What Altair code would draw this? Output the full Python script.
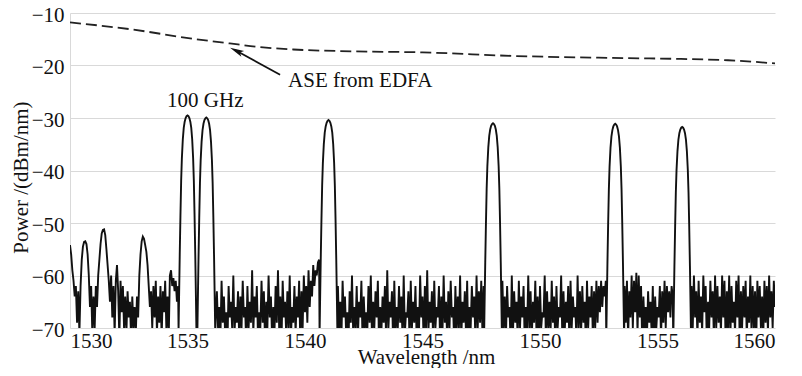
import altair as alt
import pandas as pd

# ---------------- data ----------------
x_ticks = [1530, 1535, 1540, 1545, 1550, 1555, 1560]
y_ticks = [-70, -60, -50, -40, -30, -20, -10]

# ASE from EDFA (dashed curve)
ase_wl = [1530, 1532.5, 1535.3, 1536.8, 1538, 1539.5, 1542, 1545, 1549, 1553, 1556, 1558, 1560]
ase_p = [-11.8, -13.05, -14.95, -15.8, -16.45, -16.95, -17.3, -17.5, -18.2, -18.55, -18.75, -19.0, -19.6]

# channel peaks
peak_wl = [1535.0, 1535.8, 1541.0, 1548.0, 1553.2, 1556.05]
peak_top = [-29.5, -29.9, -30.4, -31.0, -31.1, -31.7]
# measured peak shape: offset from centre (nm) and drop below top (dB)
shape_dx = [-0.38, -0.36, -0.33, -0.30, -0.27, -0.24, -0.20, -0.16, -0.12, -0.08, -0.04, 0.0,
            0.04, 0.08, 0.12, 0.16, 0.20, 0.24, 0.27, 0.30, 0.33, 0.36, 0.38]
shape_drop = [-41, -35, -26.5, -19, -12.5, -8.2, -4.6, -2.4, -1.2, -0.5, -0.15, 0.0,
              -0.15, -0.5, -1.2, -2.4, -4.6, -8.2, -12.5, -19, -26.5, -35, -41]

# noise floor / side lobes, segment by segment (start wavelength, step, values)
seg1_start, seg1_step = 1530.0, 0.05
seg1 = [-54.2, -56, -59, -61, -64, -62, -69, -63, -71, -62,
        -57, -54.5, -53.6, -53.5, -54, -56, -60, -66, -62, -71,
        -64, -70, -62, -66, -60, -57, -54, -52, -51.3, -51.2,
        -52.3, -55, -58, -61, -65, -60, -68, -62, -71, -61,
        -58, -63, -72, -61, -67, -62, -70, -64, -71, -63,
        -68, -65, -72, -64, -70, -66, -71, -64, -68, -60,
        -56, -53.5, -52.6, -53, -54.2, -55.5, -58, -62, -66, -63,
        -70, -62, -68, -61, -71, -64, -69, -62, -72, -63,
        -67, -61, -70, -64, -72, -60, -59, -62, -60.5, -63,
        -61, -65, -62]

seg2_start, seg2_step = 1536.25, 0.05
seg2 = [-63, -70, -66, -72, -61, -69, -64, -71, -67, -73,
        -62, -68, -65, -70, -60, -71, -66, -69, -63, -72,
        -64, -70, -61, -68, -66, -73, -62, -70, -65, -69,
        -59, -71, -64, -68, -62, -72, -67, -70, -61, -69,
        -63, -73, -65, -70, -60, -68, -64, -72, -66, -71,
        -62, -69, -59, -70, -64, -73, -61, -68, -65, -71,
        -63, -70, -60, -72, -66, -69, -62, -71, -64, -68,
        -61, -73, -63, -70, -60, -67, -62, -69, -59, -66,
        -61, -64, -58, -62, -59, -60, -57.5, -57]

seg3_start, seg3_step = 1541.40, 0.05
seg3 = [-62, -70, -65, -72, -61, -68, -64, -71, -67, -73,
        -63, -69, -60, -71, -66, -70, -62, -72, -65, -68,
        -61, -73, -64, -70, -67, -71, -62, -69, -60, -72,
        -65, -70, -63, -68, -61, -73, -66, -71, -64, -69,
        -62, -72, -59, -70, -65, -68, -63, -73, -61, -71,
        -66, -70, -62, -69, -64, -72, -60, -71, -67, -68,
        -63, -73, -61, -70, -65, -69, -62, -72, -66, -71,
        -60, -68, -64, -73, -62, -70, -59, -71, -65, -69,
        -63, -72, -61, -70, -66, -68, -62, -73, -64, -71,
        -60, -69, -65, -72, -63, -70, -61, -68, -66, -73,
        -62, -71, -64, -70, -60, -72, -65, -69, -63, -71,
        -61, -73, -66, -70, -62, -68, -64, -72, -60, -70,
        -63, -69, -61, -71, -62]

seg4_start, seg4_step = 1548.40, 0.05
seg4 = [-61, -70, -64, -72, -62, -68, -66, -73, -60, -71,
        -63, -69, -65, -72, -61, -70, -64, -68, -62, -73,
        -66, -71, -60, -70, -63, -72, -65, -69, -61, -71,
        -64, -73, -62, -70, -67, -68, -60, -72, -63, -70,
        -65, -71, -61, -69, -64, -73, -62, -70, -66, -68,
        -60, -72, -63, -71, -65, -69, -62, -73, -61, -70,
        -64, -68, -66, -72, -60, -70, -63, -71, -62, -69,
        -65, -73, -61, -70, -64, -68, -62, -72, -63, -70,
        -61, -69, -62, -67, -61, -66, -62, -64, -61]

seg5_start, seg5_step = 1553.60, 0.05
seg5 = [-62, -69, -61, -72, -63, -68, -60, -70, -61, -67,
        -59.5, -71, -60, -68, -62, -73, -64, -70, -66, -72,
        -63, -69, -65, -71, -62, -73, -64, -70, -66, -68,
        -62, -72, -63, -69, -61, -70, -62, -67, -63, -68,
        -62, -64]

seg6_start, seg6_step = 1556.45, 0.05
seg6 = [-62, -70, -60, -68, -63, -72, -61, -69, -64, -71,
        -60, -67, -62, -73, -65, -70, -61, -68, -63, -72,
        -60, -70, -62, -69, -64, -71, -60, -68, -61, -73,
        -63, -70, -60, -72, -62, -69, -65, -71, -61, -68,
        -60, -73, -63, -70, -62, -68, -61, -72, -64, -69,
        -60, -71, -62, -70, -63, -73, -61, -68, -62, -70,
        -64, -72, -61, -69, -62, -71, -60, -68, -63, -70,
        -61, -66]

# annotations
ase_label = "ASE from EDFA"
ghz_label = "100 GHz"

# ---------------- build tables ----------------
rows = []
for start, step, vals in [(seg1_start, seg1_step, seg1), (seg2_start, seg2_step, seg2),
                          (seg3_start, seg3_step, seg3), (seg4_start, seg4_step, seg4),
                          (seg5_start, seg5_step, seg5), (seg6_start, seg6_step, seg6)]:
    for i, v in enumerate(vals):
        rows.append((round(start + i * step, 4), v))
for c, t in zip(peak_wl, peak_top):
    for dx, dp in zip(shape_dx, shape_drop):
        rows.append((round(c + dx, 4), t + dp))
spec = pd.DataFrame(rows, columns=["wl", "p"]).sort_values("wl").reset_index(drop=True)
ase = pd.DataFrame({"wl": ase_wl, "p": ase_p})

FONT = "Times New Roman"
INK = "#111111"

xs = alt.Scale(domain=[1530, 1560], nice=False, zero=False)
ys = alt.Scale(domain=[-70, -10], nice=False, zero=False)

x_enc = alt.X("wl:Q", scale=xs, title="Wavelength /nm",
              axis=alt.Axis(values=x_ticks, format="d", grid=False, domain=False, ticks=False,
                            tickSize=0, labelPadding=2, labelFontSize=21, titleFontSize=21,
                            titleX=356, titleY=35, titleBaseline="alphabetic",
                            labelFont=FONT, titleFont=FONT, labelColor=INK,
                            labelFontWeight="normal", labelFontStyle="normal",
                            titleColor=INK, titleFontWeight="normal"))
y_enc = alt.Y("p:Q", scale=ys, title="Power /(dBm/nm)",
              axis=alt.Axis(values=y_ticks, grid=True, gridColor="#d9d9d9", gridWidth=1,
                            domain=True, domainColor="#d9d9d9", ticks=False, tickSize=0,
                            labelPadding=6, labelOffset=2, labelFontSize=21, titleFontSize=21,
                            titleX=-43, titleY=164, titleAngle=270, titleBaseline="alphabetic",
                            labelFont=FONT, titleFont=FONT, labelColor=INK,
                            labelFontWeight="normal", labelFontStyle="normal",
                            titleColor=INK, titleFontWeight="normal"))

spectrum = alt.Chart(spec).mark_line(color=INK, strokeWidth=1.9, clip=True,
                                     interpolate="linear").encode(x=x_enc, y=y_enc)

ase_line = alt.Chart(ase).mark_line(color="#222222", strokeWidth=1.8, strokeDash=[11, 5],
                                    interpolate="monotone").encode(x="wl:Q", y="p:Q")

arrow_df = pd.DataFrame({"x": [1538.94], "y": [-21.76], "x2": [1537.0], "y2": [-17.0]})
arrow_line = alt.Chart(arrow_df).mark_rule(color=INK, strokeWidth=1.8).encode(
    x="x:Q", y="y:Q", x2="x2:Q", y2="y2:Q")
head_df = pd.DataFrame({"x": [1536.81], "y": [-16.6]})
arrow_head = alt.Chart(head_df).mark_point(
    shape="M0,0L0.45,2L0,1.55L-0.45,2Z", filled=True, color=INK, opacity=1,
    size=200, angle=296, strokeWidth=0).encode(x="x:Q", y="y:Q")

txt_df = pd.DataFrame({"x": [1539.28, 1534.13], "y": [-24.0, -27.86], "t": [ase_label, ghz_label]})
texts = alt.Chart(txt_df).mark_text(font=FONT, fontSize=21, fontWeight="normal",
                                    fontStyle="normal", color=INK, align="left",
                                    baseline="alphabetic").encode(x="x:Q", y="y:Q", text="t:N")

chart = alt.layer(spectrum, ase_line, arrow_line, arrow_head, texts).properties(
    width=705, height=315,
    autosize=alt.AutoSizeParams(type="none"),
    padding={"left": 62, "top": 5, "right": 19, "bottom": 40},
).configure_view(strokeWidth=0)

chart.save("out.html", embed_options={"renderer": "svg", "actions": False})
